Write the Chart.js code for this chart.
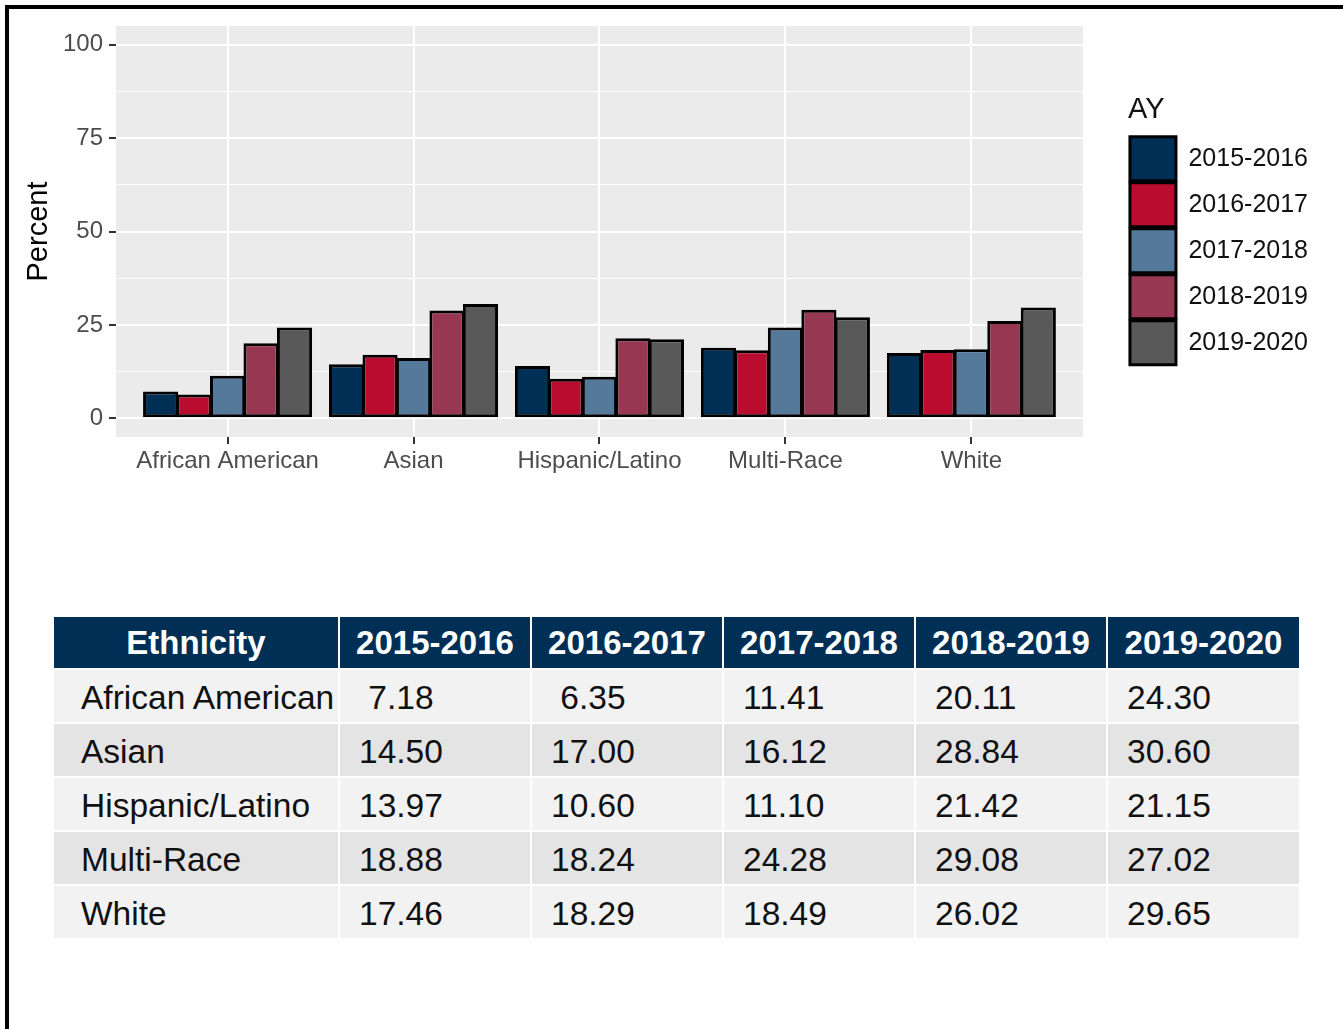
<!DOCTYPE html>
<html>
<head>
<meta charset="utf-8">
<script src="https://cdn.jsdelivr.net/npm/chart.js@4.4.1/dist/chart.umd.min.js"></script>
<style>
  body { margin: 0; background: #fff; font-family: "Liberation Sans", Arial, sans-serif; }
  #wrap { position: relative; width: 1343px; height: 1029px; overflow: hidden; }
  #chart { position: absolute; left: 0; top: 0; }
  .frame { position: absolute; background: #000; z-index: 5; }
  #tbl { position: absolute; left: 52px; top: 615px; border-collapse: collapse; }
  #tbl th, #tbl td { border: 2px solid #fff; font-size: 33.5px; padding: 0; }
  #tbl th { background: #002f56; color: #fff; font-weight: bold; font-size: 33px; height: 51px; text-align: center; }
  #tbl td { color: #111; height: 48px; text-align: left; padding: 4px 0 0 19px; }
  #tbl td.eth { padding-left: 27px; }
  #tbl tr.odd td { background: #f2f2f2; }
  #tbl tr.even td { background: #e4e4e4; }
</style>
</head>
<body>
<div id="wrap">
  <canvas id="chart" width="1343" height="500"></canvas>
  <div class="frame" style="left:5px;top:5px;width:4px;height:1024px;"></div>
  <div class="frame" style="left:5px;top:5px;width:1338px;height:4px;"></div>
  <table id="tbl"></table>
</div>
<script>
// ===== Data =====
const categories = ['African American', 'Asian', 'Hispanic/Latino', 'Multi-Race', 'White'];
const years = ['2015-2016', '2016-2017', '2017-2018', '2018-2019', '2019-2020'];
const ay2015 = [7.18, 14.50, 13.97, 18.88, 17.46];
const ay2016 = [6.35, 17.00, 10.60, 18.24, 18.29];
const ay2017 = [11.41, 16.12, 11.10, 24.28, 18.49];
const ay2018 = [20.11, 28.84, 21.42, 29.08, 26.02];
const ay2019 = [24.30, 30.60, 21.15, 27.02, 29.65];
const yTicks = [0, 25, 50, 75, 100];
const colors = ['#002f56', '#ba0c2f', '#54799a', '#973752', '#595959'];

const series = [ay2015, ay2016, ay2017, ay2018, ay2019];

// ===== Panel background (ggplot grey) =====
const panelBg = {
    id: 'panelBg',
    beforeDraw(chart) {
        const a = chart.chartArea;
        const ctx = chart.ctx;
        ctx.save();
        ctx.fillStyle = '#ebebeb';
        ctx.fillRect(a.left, a.top, a.right - a.left, a.bottom - a.top);
        ctx.restore();
    }
};

// major ticks plus minor gridlines halfway between
const yGrid = [];
yTicks.forEach((t, i) => {
    yGrid.push(t);
    if (i < yTicks.length - 1) yGrid.push((t + yTicks[i + 1]) / 2);
});
const isMajor = v => yTicks.includes(v);

new Chart(document.getElementById('chart'), {
    type: 'bar',
    data: {
        datasets: series.map((vals, i) => ({
            label: years[i],
            data: vals.map((v, j) => ({ x: j + 1, y: v })),
            backgroundColor: colors[i],
            borderColor: '#000',
            borderWidth: 3,
            borderSkipped: false,
            categoryPercentage: 0.9,
            barPercentage: 1.05
        }))
    },
    options: {
        responsive: false,
        animation: false,
        events: [],
        layout: { padding: { top: 26, left: 0, right: 25, bottom: 3 } },
        scales: {
            x: {
                type: 'linear',
                min: 0.4,
                max: 5.6,
                offset: false,
                afterBuildTicks: s => { s.ticks = categories.map((c, i) => ({ value: i + 1 })); },
                afterFit: s => { s.height = 60; },
                grid: { offset: false, color: '#fff', lineWidth: 2, tickColor: '#333', tickWidth: 2, tickLength: 7 },
                border: { display: false },
                ticks: {
                    autoSkip: false, maxRotation: 0, padding: 3,
                    color: '#4d4d4d', font: { family: 'Liberation Sans', size: 24 },
                    callback: v => categories[v - 1]
                }
            },
            y: {
                min: -5,
                max: 105,
                afterBuildTicks: s => { s.ticks = yGrid.map(v => ({ value: v })); },
                afterFit: s => { s.width = 116; },
                grid: {
                    color: '#fff',
                    lineWidth: c => isMajor(c.tick.value) ? 2 : 1,
                    tickColor: c => isMajor(c.tick.value) ? '#333' : 'rgba(0,0,0,0)',
                    tickWidth: 2, tickLength: 7
                },
                border: { display: false },
                ticks: {
                    padding: 6, color: '#4d4d4d', font: { family: 'Liberation Sans', size: 24 },
                    callback: v => isMajor(v) ? String(v) : ''
                },
                title: {
                    display: true, text: 'Percent', color: '#000',
                    font: { family: 'Liberation Sans', size: 29 },
                    padding: { top: 22, bottom: 0 }
                }
            },
            // empty axis, only keeps a gap between panel and legend
            gap: {
                type: 'linear', position: 'right', display: true,
                grid: { display: false, drawTicks: false },
                border: { display: false },
                ticks: { display: false },
                afterFit: s => { s.width = 45; }
            }
        },
        plugins: {
            tooltip: { enabled: false },
            legend: {
                position: 'right',
                align: 'start',
                title: {
                    display: true, text: 'AY', position: 'start', color: '#111',
                    font: { family: 'Liberation Sans', size: 29 },
                    padding: { top: 69, bottom: 5 }
                },
                labels: {
                    boxWidth: 46, boxHeight: 44, padding: 2,
                    color: '#111', font: { family: 'Liberation Sans', size: 25 }
                }
            }
        }
    },
    plugins: [panelBg]
});

// ===== Table =====
const tbl = document.getElementById('tbl');
const colW = [284, 190, 190, 190, 190, 191];
let html = '<tr>' + ['Ethnicity'].concat(years).map((h, i) =>
    `<th style="width:${colW[i]}px">${h}</th>`).join('') + '</tr>';
categories.forEach((c, r) => {
    html += `<tr class="${r % 2 ? 'even' : 'odd'}"><td class="eth">${c}</td>`;
    series.forEach(vals => {
        const v = vals[r];
        html += `<td>${v < 10 ? '&nbsp;' : ''}${v.toFixed(2)}</td>`;
    });
    html += '</tr>';
});
tbl.innerHTML = html;
</script>
</body>
</html>
